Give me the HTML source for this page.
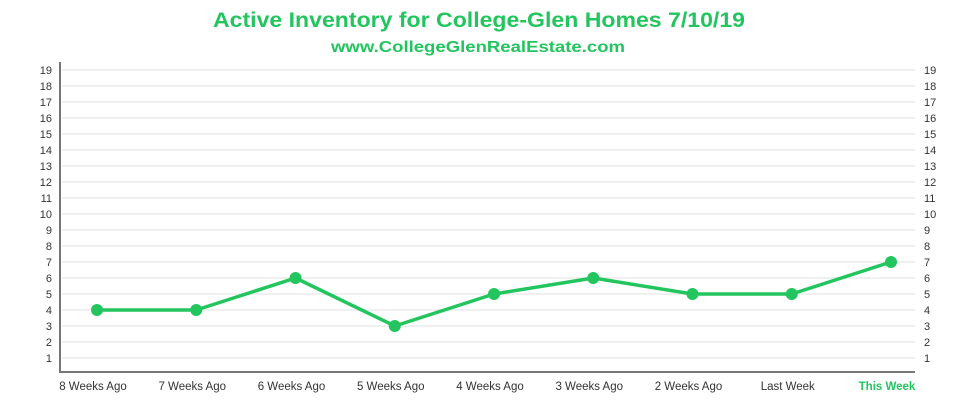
<!DOCTYPE html>
<html><head><meta charset="utf-8"><style>
body{margin:0;background:#fff;font-family:"Liberation Sans",sans-serif}
</style></head><body>
<svg width="971" height="413" viewBox="0 0 971 413">
<text x="479" y="27" text-anchor="middle" font-size="21" font-weight="bold" fill="#22c55e" textLength="532" lengthAdjust="spacingAndGlyphs">Active Inventory for College-Glen Homes 7/10/19</text>
<text x="478" y="52" text-anchor="middle" font-size="16" font-weight="bold" fill="#22c55e" textLength="294" lengthAdjust="spacingAndGlyphs">www.CollegeGlenRealEstate.com</text>
<g id="grid"></g><g id="marks"></g>
</svg>
<script>
const categories=["8 Weeks Ago","7 Weeks Ago","6 Weeks Ago","5 Weeks Ago","4 Weeks Ago","3 Weeks Ago","2 Weeks Ago","Last Week","This Week"];
const values=[4,4,6,3,5,6,5,5,7];
const yTicks=[1,2,3,4,5,6,7,8,9,10,11,12,13,14,15,16,17,18,19];
const NS="http://www.w3.org/2000/svg";
const y=v=>374-v*16;
const x=i=>97+i*99.25;
const grid=document.getElementById('grid'),marks=document.getElementById('marks');
function mk(p,t,a){const e=document.createElementNS(NS,t);for(const k in a)e.setAttribute(k,a[k]);p.appendChild(e);return e;}
yTicks.forEach(v=>{
 const l=mk(grid,'line',{x1:62,x2:915,y1:y(v),y2:y(v),stroke:'#f0f0f0','stroke-width':2});
 
 
 const a=mk(grid,'text',{x:52,y:y(v)+4,'text-anchor':'end','font-size':11,fill:'#333'});a.textContent=v;
 
 
 const b=mk(grid,'text',{x:924,y:y(v)+4,'font-size':11,fill:'#333'});b.textContent=v;
 
 
});
const ax=mk(grid,'path',{d:'M60 62 V372 H915',fill:'none',stroke:'#777','stroke-width':2});


categories.forEach((c,i)=>{
 const last=i===categories.length-1;
 const t=mk(grid,'text',{x:x(i)-4,y:390,'text-anchor':'middle','font-size':11.5,fill:last?'#22c55e':'#333','font-weight':last?'bold':'normal'});t.textContent=c;
 
 
});
const ln=mk(marks,'polyline',{points:values.map((v,i)=>x(i)+','+y(v)).join(' '),fill:'none',stroke:'#22c55e','stroke-width':3.5,'stroke-linejoin':'round'});


values.forEach((v,i)=>{
 const c=mk(marks,'circle',{cx:x(i),cy:y(v),r:6,fill:'#22c55e'});
 
 
});
</script>
</body></html>
